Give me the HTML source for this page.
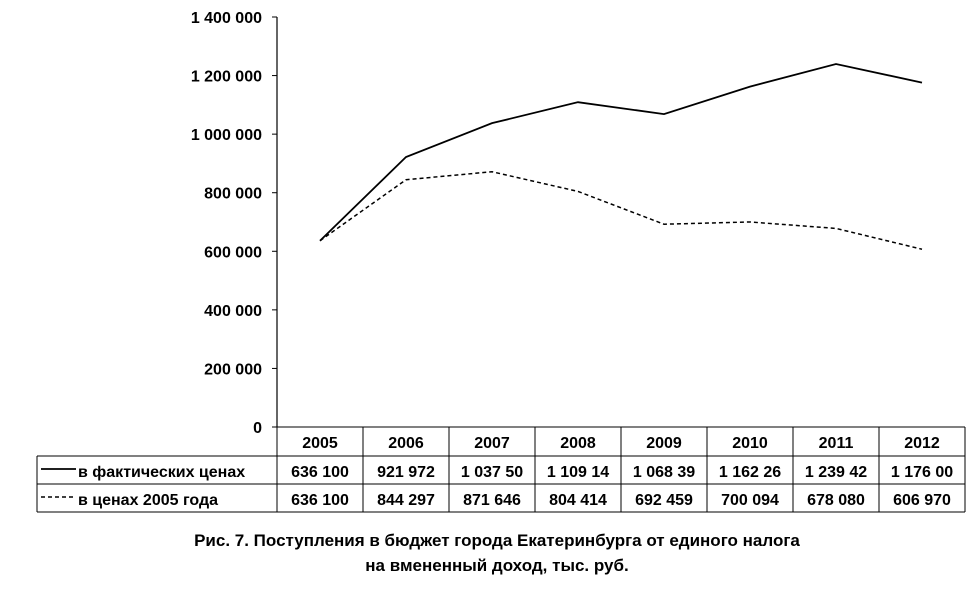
<!DOCTYPE html>
<html><head><meta charset="utf-8"><style>
body{margin:0;background:#fff;width:967px;height:590px;overflow:hidden;font-family:"Liberation Sans",Arial,sans-serif;font-weight:bold;}
svg text{font-family:"Liberation Sans",Arial,sans-serif;font-weight:bold;}
</style></head><body>
<svg id="chart" width="967" height="590" xmlns="http://www.w3.org/2000/svg"></svg>
<script>
const years=["2005","2006","2007","2008","2009","2010","2011","2012"];
const actual=[636100,921972,1037500,1109140,1068390,1162260,1239420,1176000];
const real2005=[636100,844297,871646,804414,692459,700094,678080,606970];
const actualLabels=["636 100","921 972","1 037 50","1 109 14","1 068 39","1 162 26","1 239 42","1 176 00"];
const realLabels=["636 100","844 297","871 646","804 414","692 459","700 094","678 080","606 970"];
const yTicks=[0,200000,400000,600000,800000,1000000,1200000,1400000];
const yTickLabels=["0","200 000","400 000","600 000","800 000","1 000 000","1 200 000","1 400 000"];

const NS="http://www.w3.org/2000/svg";
const svg=document.getElementById('chart');
const x0=277,colW=86,y0=427,yTop=17,yMax=1400000;
const xs=i=>x0+colW*i+colW/2;
const ys=v=>y0-(v/yMax)*(y0-yTop);
function mk(tag,attrs,parent){const e=document.createElementNS(NS,tag);for(const k in attrs)e.setAttribute(k,attrs[k]);(parent||svg).appendChild(e);return e;}

// y axis
const ax=mk('line',{x1:x0,y1:yTop,x2:x0,y2:y0,stroke:'#000','stroke-width':1.2});


yTicks.forEach((v,i)=>{
  const t=mk('line',{x1:x0-5,y1:ys(v),x2:x0,y2:ys(v),stroke:'#000'});
  
  
  const l=mk('text',{x:262,y:ys(v)+6,'text-anchor':'end','font-size':16});
  l.textContent=yTickLabels[i];
  
  
});
// lines
const p1=mk('polyline',{points:actual.map((v,i)=>xs(i)+','+ys(v)).join(' '),fill:'none',stroke:'#000','stroke-width':1.8});


const p2=mk('polyline',{points:real2005.map((v,i)=>xs(i)+','+ys(v)).join(' '),fill:'none',stroke:'#000','stroke-width':1.5,'stroke-dasharray':'4,3'});



// table
const xr=x0+colW*years.length;
const r=[427,456,484,512];
const g=mk('g',{stroke:'#000','stroke-width':1});


mk('line',{x1:x0,y1:r[0],x2:xr,y2:r[0]},g);
mk('line',{x1:37,y1:r[1],x2:xr,y2:r[1]},g);
mk('line',{x1:37,y1:r[2],x2:xr,y2:r[2]},g);
mk('line',{x1:37,y1:r[3],x2:xr,y2:r[3]},g);
mk('line',{x1:37,y1:r[1],x2:37,y2:r[3]},g);
for(let i=0;i<=years.length;i++)mk('line',{x1:x0+colW*i,y1:r[0],x2:x0+colW*i,y2:r[3]},g);
years.forEach((y,i)=>{
  const t=mk('text',{x:xs(i),y:448,'text-anchor':'middle','font-size':16});t.textContent=y;
  
  
  const a=mk('text',{x:xs(i),y:477,'text-anchor':'middle','font-size':16});a.textContent=actualLabels[i];
  
  
  const b=mk('text',{x:xs(i),y:505,'text-anchor':'middle','font-size':16});b.textContent=realLabels[i];
  
  
});
const k1=mk('line',{x1:41,y1:469,x2:76,y2:469,stroke:'#000','stroke-width':1.8});


const k2=mk('line',{x1:41,y1:497,x2:76,y2:497,stroke:'#000','stroke-width':1.5,'stroke-dasharray':'4,3'});


const l1=mk('text',{x:78,y:477,'font-size':16});l1.textContent='в фактических ценах';


const l2=mk('text',{x:78,y:505,'font-size':16});l2.textContent='в ценах 2005 года';



const c1=mk('text',{x:497,y:546,'text-anchor':'middle','font-size':17});c1.textContent='Рис. 7. Поступления в бюджет города Екатеринбурга от единого налога';


const c2=mk('text',{x:497,y:571,'text-anchor':'middle','font-size':17});c2.textContent='на вмененный доход, тыс. руб.';


</script>
</body></html>
